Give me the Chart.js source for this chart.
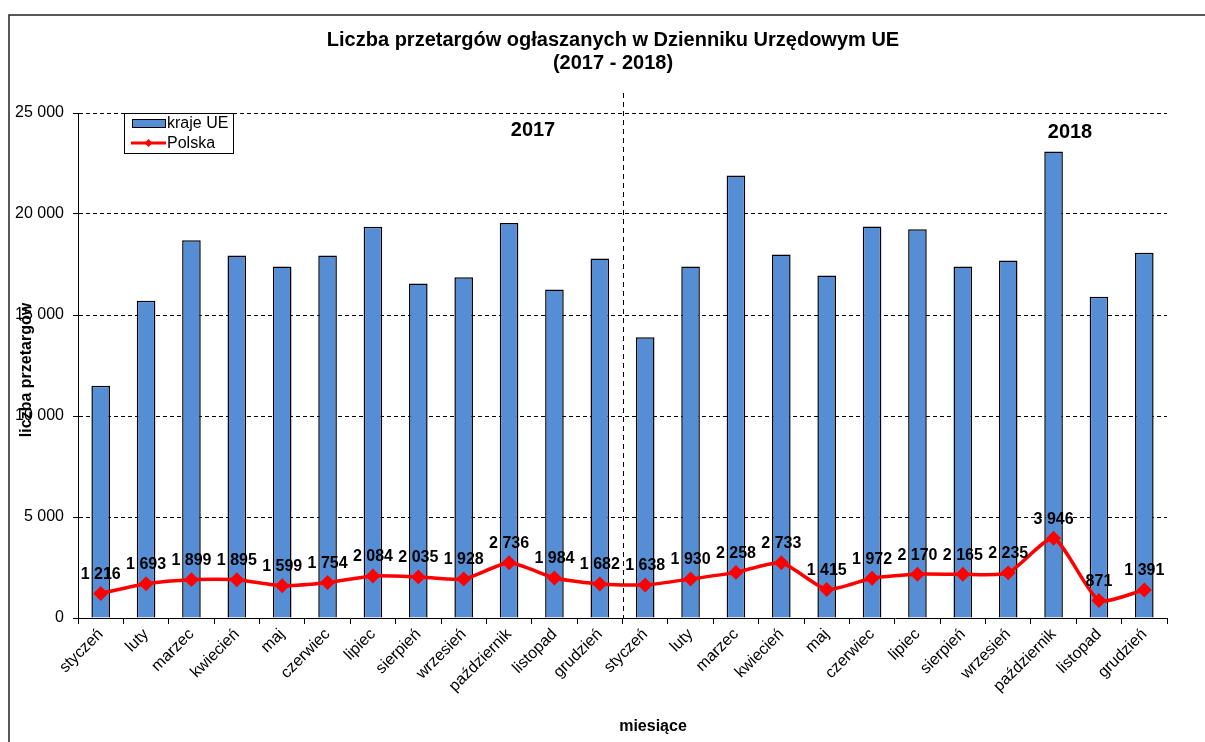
<!DOCTYPE html>
<html>
<head>
<meta charset="utf-8">
<script src="https://cdn.jsdelivr.net/npm/chart.js@4"></script>
<style>
    body { margin: 0; background: #fff; }
    canvas { display: block; }
</style>
</head>
<body>
<canvas id="myChart" width="1205" height="742"></canvas>
<script>
var miesiace = ['styczeń', 'luty', 'marzec', 'kwiecień', 'maj', 'czerwiec', 'lipiec',
    'sierpień', 'wrzesień', 'październik', 'listopad', 'grudzień'];
var labels = miesiace.concat(miesiace);
var lata = ['2017', '2018'];
var krajeUE = [11500, 15700, 18700, 17950, 17400, 17950, 19370, 16560, 16870, 19560, 16260, 17800,
    13900, 17400, 21900, 18000, 16950, 19380, 19250, 17400, 17700, 23100, 15900, 18080];
var polska = [1216, 1693, 1899, 1895, 1599, 1754, 2084, 2035, 1928, 2736, 1984, 1682,
    1638, 1930, 2258, 2733, 1415, 1972, 2170, 2165, 2235, 3946, 871, 1391];
var yTicks = [0, 5000, 10000, 15000, 20000, 25000];

var FONT = "'Liberation Sans', Arial, sans-serif";
var BAR_COLOR = '#558ED5';

function spacje(v) {
    return String(v).replace(/\B(?=(\d{3})+(?!\d))/g, ' ');
}

// napisy, legenda, ramka, linia podzialu lat
var extras = {
    id: 'extras',
    afterDatasetsDraw: function (chart) {
        var ctx = chart.ctx;
        var area = chart.chartArea;

        // os Y ciagla
        ctx.save();
        ctx.strokeStyle = '#000';
        ctx.lineWidth = 1;
        ctx.beginPath();
        ctx.moveTo(Math.round(area.left) + 0.5, area.top);
        ctx.lineTo(Math.round(area.left) + 0.5, area.bottom);
        ctx.stroke();

        // etykiety dla Polski
        var meta = chart.getDatasetMeta(1);
        ctx.fillStyle = '#000';
        ctx.font = 'bold 16px ' + FONT;
        ctx.textAlign = 'center';
        ctx.textBaseline = 'middle';
        meta.data.forEach(function (p, i) {
            ctx.fillText(spacje(polska[i]), p.x, p.y - 19);
        });
        ctx.restore();
    },
    afterDraw: function (chart) {
        var ctx = chart.ctx;
        var x = chart.scales.x;
        var area = chart.chartArea;
        ctx.save();

        // ramka
        ctx.strokeStyle = '#222';
        ctx.lineWidth = 1.5;
        ctx.beginPath();
        ctx.moveTo(9, 742);
        ctx.lineTo(9, 15);
        ctx.lineTo(1205, 15);
        ctx.stroke();

        // linia podzialu 2017 / 2018
        var xm = Math.round((x.getPixelForValue(11) + x.getPixelForValue(12)) / 2) + 0.5;
        ctx.strokeStyle = '#000';
        ctx.lineWidth = 1;
        ctx.setLineDash([5, 4]);
        ctx.beginPath();
        ctx.moveTo(xm, 93);
        ctx.lineTo(xm, area.bottom);
        ctx.stroke();
        ctx.setLineDash([]);

        // tytul
        ctx.fillStyle = '#000';
        ctx.textAlign = 'center';
        ctx.textBaseline = 'middle';
        ctx.font = 'bold 20px ' + FONT;
        ctx.fillText('Liczba przetargów ogłaszanych w Dzienniku Urzędowym UE', 613, 40);
        ctx.fillText('(2017 - 2018)', 613, 63);

        // lata
        ctx.font = 'bold 20px ' + FONT;
        ctx.fillText(lata[0], 533, 130);
        ctx.fillText(lata[1], 1070, 132);

        // tytuly osi
        ctx.font = 'bold 16px ' + FONT;
        ctx.fillText('miesiące', 653, 727);
        ctx.save();
        ctx.translate(27, 370);
        ctx.rotate(-Math.PI / 2);
        ctx.fillText('liczba przetargów', 0, 0);
        ctx.restore();

        // legenda
        ctx.fillStyle = '#fff';
        ctx.fillRect(124, 113, 109, 40);
        ctx.strokeStyle = '#000';
        ctx.lineWidth = 1;
        ctx.strokeRect(124.5, 113.5, 109, 40);
        ctx.fillStyle = BAR_COLOR;
        ctx.fillRect(132, 119, 33, 8);
        ctx.strokeRect(132.5, 119.5, 33, 8);
        ctx.strokeStyle = '#FF0000';
        ctx.lineWidth = 3;
        ctx.beginPath();
        ctx.moveTo(131, 143);
        ctx.lineTo(166, 143);
        ctx.stroke();
        ctx.fillStyle = '#FF0000';
        ctx.beginPath();
        ctx.moveTo(148.5, 139);
        ctx.lineTo(152.5, 143);
        ctx.lineTo(148.5, 147);
        ctx.lineTo(144.5, 143);
        ctx.closePath();
        ctx.fill();
        ctx.fillStyle = '#000';
        ctx.textAlign = 'left';
        ctx.font = '16px ' + FONT;
        ctx.fillText('kraje UE', 167, 124);
        ctx.fillText('Polska', 167, 144);

        ctx.restore();
    }
};

var config = {
    type: 'bar',
    data: {
        labels: labels,
        datasets: [{
            label: 'kraje UE',
            data: krajeUE,
            backgroundColor: BAR_COLOR,
            borderColor: '#000',
            borderWidth: 1.5,
            borderSkipped: 'bottom',
            barPercentage: 0.41,
            categoryPercentage: 1,
            order: 2
        }, {
            type: 'line',
            label: 'Polska',
            data: polska,
            borderColor: '#FF0000',
            backgroundColor: '#FF0000',
            borderWidth: 3.5,
            pointStyle: 'rectRot',
            pointRadius: 5,
            tension: 0.2,
            order: 1
        }]
    },
    options: {
        responsive: false,
        animation: false,
        layout: {
            padding: { left: 0, right: 38, top: 113, bottom: 0 }
        },
        plugins: {
            legend: { display: false },
            title: { display: false },
            tooltip: { enabled: false }
        },
        scales: {
            x: {
                afterFit: function (s) { s.height = 124; },
                grid: {
                    drawOnChartArea: false,
                    drawTicks: true,
                    tickLength: 6,
                    color: '#000'
                },
                border: { display: true, color: '#000', width: 1 },
                ticks: {
                    color: '#000',
                    font: { family: FONT, size: 16 },
                    minRotation: 45,
                    maxRotation: 45,
                    autoSkip: false,
                    padding: 1
                }
            },
            y: {
                min: 0,
                max: 25000,
                afterFit: function (s) { s.width = 78; },
                afterBuildTicks: function (s) {
                    s.ticks = yTicks.map(function (v) { return { value: v }; });
                },
                grid: {
                    color: '#000',
                    lineWidth: 1,
                    tickLength: 5,
                    tickBorderDash: []
                },
                border: { display: true, color: '#000', width: 1, dash: [4, 3] },
                ticks: {
                    color: '#000',
                    font: { family: FONT, size: 16 },
                    padding: 9,
                    callback: function (v) { return spacje(v); }
                }
            }
        }
    },
    plugins: [extras]
};

var myChart = new Chart(document.getElementById('myChart'), config);
</script>
</body>
</html>
